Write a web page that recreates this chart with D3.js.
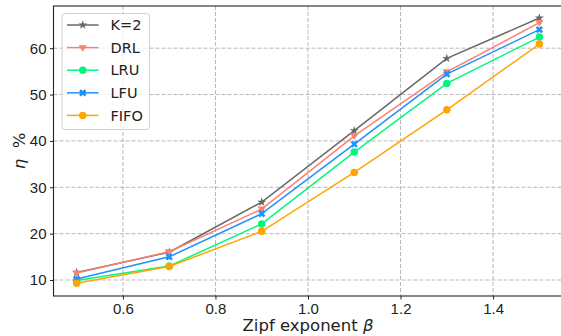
<!DOCTYPE html>
<html>
<head>
<meta charset="utf-8">
<script src="https://cdn.jsdelivr.net/npm/d3@7"></script>
<style>
  body { margin: 0; background: #fff; }
  svg { font-family: "DejaVu Sans", sans-serif; }
  .grid line { stroke: #b0b0b0; stroke-dasharray: 4,2; stroke-width: 0.9; }
  .axis text { font-size: 15px; fill: #222; }
  .axis path, .axis line { stroke: #222; }
</style>
</head>
<body>
<svg width="561" height="336"></svg>
<script>
// **** data ****
var zipf = [0.5, 0.7, 0.9, 1.1, 1.3, 1.5];
var k2   = [11.6, 16.0, 26.8, 42.2, 57.8, 66.5];
var drl  = [11.5, 16.1, 25.3, 41.1, 54.9, 65.5];
var lru  = [9.9, 13.0, 22.1, 37.6, 52.4, 62.4];
var lfu  = [10.2, 15.0, 24.3, 39.3, 54.4, 64.0];
var fifo = [9.3, 12.9, 20.5, 33.2, 46.7, 60.9];
var xTicks = [0.6, 0.8, 1.0, 1.2, 1.4];
var yTicks = [10, 20, 30, 40, 50, 60];

var series = [
    {name: "K=2",  values: k2,   color: "#686868", marker: "star"},
    {name: "DRL",  values: drl,  color: "#fa8072", marker: "tri"},
    {name: "LRU",  values: lru,  color: "#00f77f", marker: "circle"},
    {name: "LFU",  values: lfu,  color: "#1e90ff", marker: "x"},
    {name: "FIFO", values: fifo, color: "#ffa500", marker: "circle"}
];

// **** scales & axes ****
var plotL = 53.5, plotR = 562.5, plotT = 6, plotB = 296;

var xScale = d3.scaleLinear().domain([0.45, 1.55]).range([plotL, plotR]);
var yScale = d3.scaleLinear().domain([6.55, 69.1]).range([plotB, plotT]);

var svg = d3.select("svg");

// grid
svg.append("g").attr("class", "grid")
    .selectAll("line").data(xTicks).enter().append("line")
    .attr("x1", function(d) { return xScale(d); })
    .attr("x2", function(d) { return xScale(d); })
    .attr("y1", plotT).attr("y2", plotB);

svg.append("g").attr("class", "grid")
    .selectAll("line").data(yTicks).enter().append("line")
    .attr("y1", function(d) { return yScale(d); })
    .attr("y2", function(d) { return yScale(d); })
    .attr("x1", plotL).attr("x2", plotR);

svg.append("g").attr("class", "x axis")
    .attr("transform", "translate(0," + plotB + ")")
    .call(d3.axisBottom(xScale).tickValues(xTicks).tickFormat(d3.format(".1f")).tickSizeOuter(0).tickSize(3.5).tickPadding(3.5));

svg.append("g").attr("class", "y axis")
    .attr("transform", "translate(" + plotL + ",0)")
    .call(d3.axisLeft(yScale).tickValues(yTicks).tickSizeOuter(0).tickSize(3.5).tickPadding(3.5));

svg.selectAll(".axis .domain").remove();

// frame
svg.append("rect")
    .attr("x", plotL).attr("y", plotT)
    .attr("width", plotR - plotL).attr("height", plotB - plotT)
    .attr("fill", "none").attr("stroke", "#222").attr("stroke-width", 1.1);

// labels
svg.append("text")
    .attr("text-anchor", "middle")
    .attr("x", 308).attr("y", 331)
    .style("font-size", "16.5px").attr("fill", "#222")
    .html('Zipf exponent <tspan font-style="italic">β</tspan>');

svg.append("text")
    .attr("text-anchor", "middle")
    .attr("transform", "translate(25,151) rotate(-90)")
    .style("font-size", "16.5px").attr("fill", "#222")
    .html('<tspan font-style="italic">η</tspan>\u00a0\u00a0%');

// **** markers ****
function drawMarker(g, type, color, size) {
    if (type === "circle") {
        g.append("circle").attr("r", size * 0.5).attr("fill", color);
    } else if (type === "tri") {
        var s = size * 0.55;
        g.append("path").attr("d", "M" + (-s) + "," + (-s * 0.6) + "L" + s + "," + (-s * 0.6) + "L0," + (s * 1.0) + "Z")
            .attr("fill", color);
    } else if (type === "star") {
        g.append("path").attr("d", d3.symbol().type(d3.symbolStar).size(size * size * 0.45)())
            .attr("fill", color);
    } else if (type === "x") {
        g.append("path").attr("d", d3.symbol().type(d3.symbolCross).size(size * size * 0.6)())
            .attr("transform", "rotate(45)")
            .attr("fill", color);
    }
}

var line = d3.line()
    .x(function(d, i) { return xScale(zipf[i]); })
    .y(function(d) { return yScale(d); });

series.forEach(function(s) {
    svg.append("path")
        .attr("d", line(s.values))
        .attr("fill", "none")
        .attr("stroke", s.color)
        .attr("stroke-width", 1.5);
    s.values.forEach(function(v, i) {
        var g = svg.append("g")
            .attr("transform", "translate(" + xScale(zipf[i]) + "," + yScale(v) + ")");
        drawMarker(g, s.marker, s.color, 7.5);
    });
});

// **** legend ****
var legend = svg.append("g").attr("transform", "translate(62,13.5)");
legend.append("rect")
    .attr("width", 87.5).attr("height", 116).attr("rx", 3)
    .attr("fill", "#fff").attr("fill-opacity", 0.8)
    .attr("stroke", "#d0d0d0").attr("stroke-width", 1);

series.forEach(function(s, i) {
    var y = 11.5 + i * 22.6;
    legend.append("line")
        .attr("x1", 5).attr("x2", 36.5).attr("y1", y).attr("y2", y)
        .attr("stroke", s.color).attr("stroke-width", 1.5);
    var g = legend.append("g").attr("transform", "translate(20.75," + y + ")");
    drawMarker(g, s.marker, s.color, 7.5);
    legend.append("text")
        .attr("x", 48.5).attr("y", y + 5.2)
        .style("font-size", "14.5px").attr("fill", "#222")
        .text(s.name);
});
</script>
</body>
</html>
